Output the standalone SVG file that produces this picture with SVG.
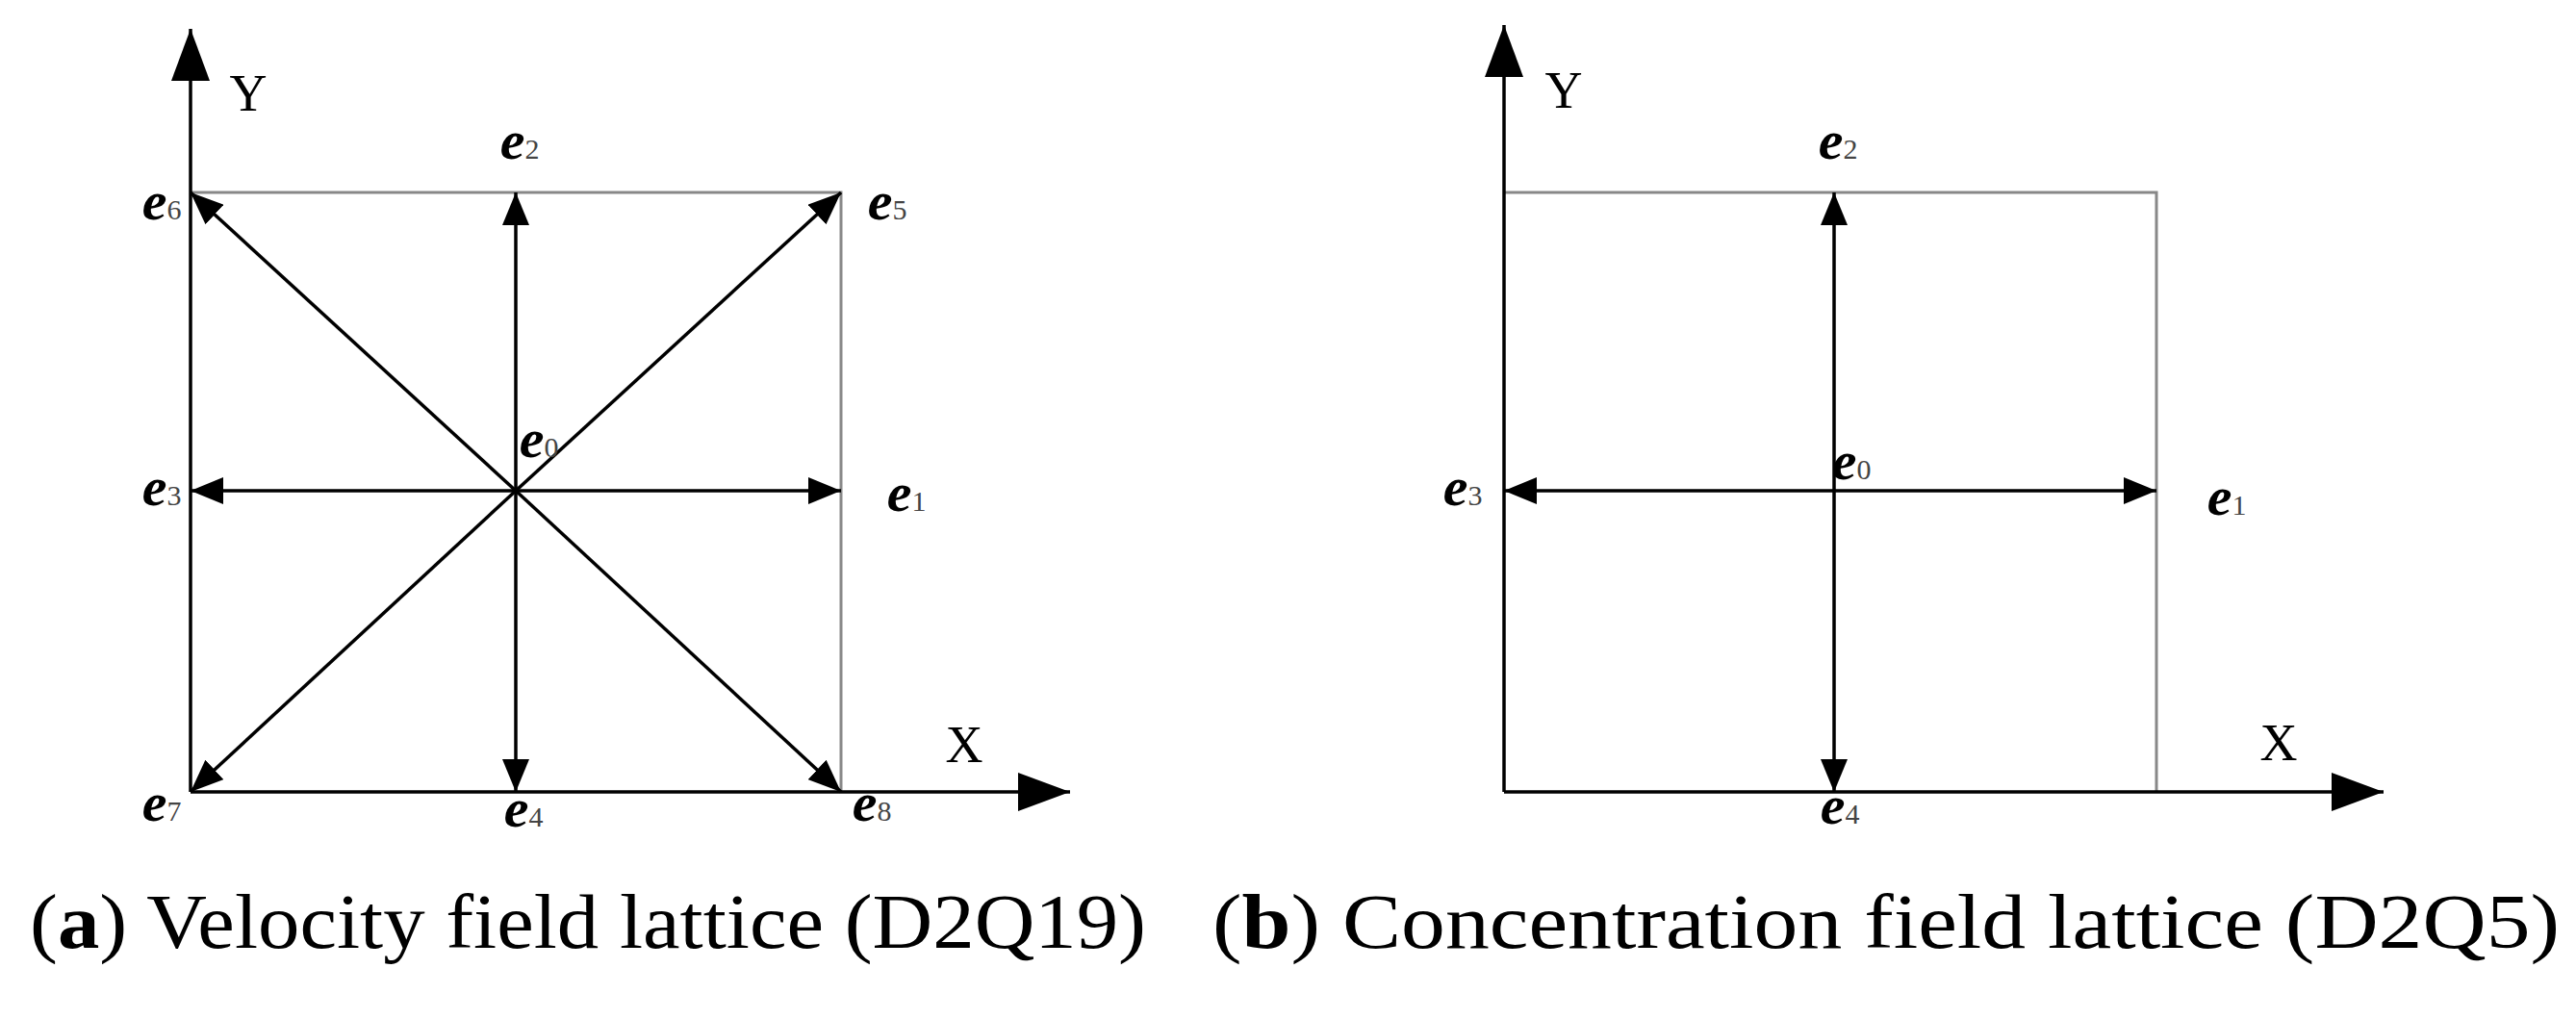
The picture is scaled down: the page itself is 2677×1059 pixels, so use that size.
<svg xmlns="http://www.w3.org/2000/svg" width="2677" height="1059" viewBox="0 0 2677 1059">
<style>
.ax{stroke:#000;stroke-width:3.5;fill:none}
.sq{stroke:#888;stroke-width:3;fill:none}
.ar{stroke:#000;stroke-width:3.5;fill:none;marker-end:url(#ah)}
.lb{font-family:"Liberation Serif",serif;font-style:italic;font-weight:bold;font-size:58px;fill:#000;text-anchor:middle}
.sb{font-size:30px;font-weight:normal;font-style:normal;fill:#444}
.xy{font-family:"Liberation Serif",serif;font-size:54px;fill:#000;text-anchor:middle}
.cap{font-family:"Liberation Serif",serif;font-size:80px;fill:#000}
</style>
<defs>
<marker id="ah" markerUnits="userSpaceOnUse" markerWidth="36" markerHeight="28" refX="34" refY="14" orient="auto"><path d="M0,0 L34,14 L0,28 z" fill="#000"/></marker>
<marker id="axh" markerUnits="userSpaceOnUse" markerWidth="56" markerHeight="40" refX="54" refY="20" orient="auto"><path d="M0,0 L54,20 L0,40 z" fill="#000"/></marker>
</defs>
<g id="panel-a">
<path class="sq" d="M198,200 H874 V823"/>
<g id="axes-a"><line class="ax" x1="198" y1="823" x2="198" y2="30" marker-end="url(#axh)"/><line class="ax" x1="198" y1="823" x2="1112" y2="823" marker-end="url(#axh)"/></g>
<g id="connectors-a">
<line class="ar" x1="536" y1="510" x2="536" y2="200"/>
<line class="ar" x1="536" y1="510" x2="536" y2="823"/>
<line class="ar" x1="536" y1="510" x2="198" y2="510"/>
<line class="ar" x1="536" y1="510" x2="874" y2="510"/>
<line class="ar" x1="536" y1="510" x2="198" y2="200"/>
<line class="ar" x1="536" y1="510" x2="874" y2="200"/>
<line class="ar" x1="536" y1="510" x2="198" y2="823"/>
<line class="ar" x1="536" y1="510" x2="874" y2="823"/>
</g>
<g id="labels-a">
<text class="xy" x="258" y="115">Y</text>
<text class="xy" x="1002" y="792">X</text>
<text class="lb" x="540" y="165">e<tspan class="sb">2</tspan></text>
<text class="lb" x="168" y="228">e<tspan class="sb">6</tspan></text>
<text class="lb" x="922" y="228">e<tspan class="sb">5</tspan></text>
<text class="lb" x="560" y="475">e<tspan class="sb">0</tspan></text>
<text class="lb" x="168" y="525">e<tspan class="sb">3</tspan></text>
<text class="lb" x="942" y="531">e<tspan class="sb">1</tspan></text>
<text class="lb" x="168" y="853">e<tspan class="sb">7</tspan></text>
<text class="lb" x="544" y="859">e<tspan class="sb">4</tspan></text>
<text class="lb" x="906" y="853">e<tspan class="sb">8</tspan></text>
</g>
</g>
<g id="panel-b">
<path class="sq" d="M1563,200 H2241 V823"/>
<g id="axes-b"><line class="ax" x1="1563" y1="823" x2="1563" y2="26" marker-end="url(#axh)"/><line class="ax" x1="1563" y1="823" x2="2477" y2="823" marker-end="url(#axh)"/></g>
<g id="connectors-b">
<line class="ar" x1="1906" y1="510" x2="1906" y2="200"/>
<line class="ar" x1="1906" y1="510" x2="1906" y2="823"/>
<line class="ar" x1="1906" y1="510" x2="1563" y2="510"/>
<line class="ar" x1="1906" y1="510" x2="2241" y2="510"/>
</g>
<g id="labels-b">
<text class="xy" x="1625" y="112">Y</text>
<text class="xy" x="2368" y="790">X</text>
<text class="lb" x="1910" y="165">e<tspan class="sb">2</tspan></text>
<text class="lb" x="1924" y="498">e<tspan class="sb">0</tspan></text>
<text class="lb" x="1520" y="525">e<tspan class="sb">3</tspan></text>
<text class="lb" x="2314" y="535">e<tspan class="sb">1</tspan></text>
<text class="lb" x="1912" y="856">e<tspan class="sb">4</tspan></text>
</g>
</g>
<text class="cap" x="31" y="985" textLength="1160" lengthAdjust="spacingAndGlyphs">(<tspan font-weight="bold">a</tspan>) Velocity field lattice (D2Q19)</text>
<text class="cap" x="1260" y="985" textLength="1400" lengthAdjust="spacingAndGlyphs">(<tspan font-weight="bold">b</tspan>) Concentration field lattice (D2Q5)</text>
</svg>
